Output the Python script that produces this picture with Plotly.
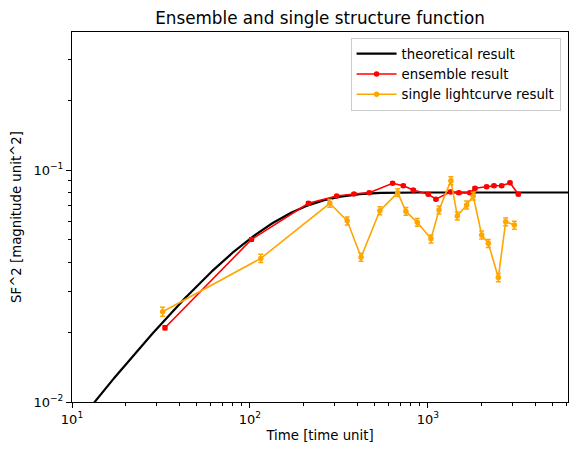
import numpy as np
import plotly.graph_objects as go

# Theoretical model parameters: SF^2(t) = SF_INF2 * (1 - exp(-t / TAU))
SF_INF2 = 0.08
TAU = 100.0
t_theory = np.logspace(0.9, 3.9, 400)
sf_theory = SF_INF2 * (1 - np.exp(-t_theory / TAU))

ens_t = [33.3, 102, 213, 307, 384, 468, 633, 727, 827, 1004, 1109, 1340,
         1492, 1722, 1838, 2137, 2350, 2596, 2891, 3218]
ens_sf = [0.0209, 0.0502, 0.0719, 0.0773, 0.0788, 0.0799, 0.0877, 0.0856,
          0.0820, 0.0786, 0.0749, 0.0805, 0.0798, 0.0798, 0.0834, 0.0847,
          0.0856, 0.0856, 0.0881, 0.0786]
ens_err = [0.0004, 0.0008, 0.0010, 0.0010, 0.0010, 0.0010, 0.0011, 0.0011,
           0.0011, 0.0010, 0.0010, 0.0011, 0.0011, 0.0011, 0.0011, 0.0011,
           0.0011, 0.0011, 0.0011, 0.0010]

single_t = [32.3, 115, 281, 352, 421, 537, 676, 752, 871, 1040, 1154, 1346,
            1462, 1650, 1797, 2004, 2184, 2486, 2734, 3060]
single_sf = [0.0245, 0.0416, 0.0719, 0.0604, 0.0421, 0.0668, 0.0799, 0.0664,
             0.0595, 0.0505, 0.0673, 0.0900, 0.0634, 0.0707, 0.0773, 0.0525,
             0.0483, 0.0344, 0.0598, 0.0579]
single_err = [0.0011, 0.0017, 0.0028, 0.0024, 0.0017, 0.0026, 0.0031, 0.0026,
              0.0023, 0.0020, 0.0026, 0.0035, 0.0025, 0.0028, 0.0030, 0.0021,
              0.0019, 0.0014, 0.0023, 0.0023]

x_major = [10, 100, 1000]
x_major_text = ["10<sup>1</sup>", "10<sup>2</sup>", "10<sup>3</sup>"]
x_minor = [20, 30, 40, 50, 60, 70, 80, 90, 200, 300, 400, 500, 600, 700, 800,
           900, 2000, 3000, 4000, 5000, 6000]
y_major = [0.01, 0.1]
y_major_text = ["10<sup>−2</sup>", "10<sup>−1</sup>"]
y_minor = [0.02, 0.03, 0.04, 0.05, 0.06, 0.07, 0.08, 0.09, 0.2, 0.3]

fig = go.Figure()
fig.add_trace(go.Scatter(x=t_theory, y=sf_theory, mode="lines",
                         line=dict(color="black", width=2.2),
                         name="theoretical result"))
fig.add_trace(go.Scatter(x=ens_t, y=ens_sf, mode="lines+markers",
                         line=dict(color="red", width=1.6),
                         marker=dict(color="red", size=5.5),
                         error_y=dict(type="data", array=ens_err, color="red",
                                      thickness=1.5, width=2.5),
                         name="ensemble result"))
fig.add_trace(go.Scatter(x=single_t, y=single_sf, mode="lines+markers",
                         line=dict(color="orange", width=1.6),
                         marker=dict(color="orange", size=5.5),
                         error_y=dict(type="data", array=single_err, color="orange",
                                      thickness=1.5, width=2.5),
                         name="single lightcurve result"))

axis_common = dict(type="log", showgrid=False, zeroline=False, showline=True,
                   linecolor="black", linewidth=1, mirror=True,
                   ticks="outside", ticklen=5, tickcolor="black",
                   tickfont=dict(family="DejaVu Sans", size=13, color="black"))

fig.update_layout(
    width=578, height=459,
    margin=dict(l=72, r=10, t=32, b=57),
    paper_bgcolor="white", plot_bgcolor="white",
    font=dict(family="DejaVu Sans", size=13, color="black"),
    title=dict(text="Ensemble and single structure function",
               x=(72 + 568) / 2 / 578, xanchor="center", y=1 - 18 / 459,
               yanchor="middle", font=dict(size=16.8, color="black")),
    xaxis=dict(axis_common, range=[1, 3.787],
               tickmode="array", tickvals=x_major, ticktext=x_major_text,
               minor=dict(ticks="outside", ticklen=3, tickcolor="black",
                          tickvals=x_minor, showgrid=False),
               title=dict(text="Time [time unit]", font=dict(size=13.3), standoff=5)),
    yaxis=dict(axis_common, range=[-2, -0.405],
               tickmode="array", tickvals=y_major, ticktext=y_major_text,
               minor=dict(ticks="outside", ticklen=3, tickcolor="black",
                          tickvals=y_minor, showgrid=False),
               title=dict(text="SF^2 [magnitude unit^2]", font=dict(size=13.3), standoff=8)),
    legend=dict(x=0.985, xanchor="right", y=0.985, yanchor="top",
                bordercolor="#cccccc", borderwidth=1, bgcolor="rgba(255,255,255,0.8)",
                font=dict(size=13.3), tracegroupgap=0, itemwidth=40),
    showlegend=True,
)

fig.write_html("out.html")
